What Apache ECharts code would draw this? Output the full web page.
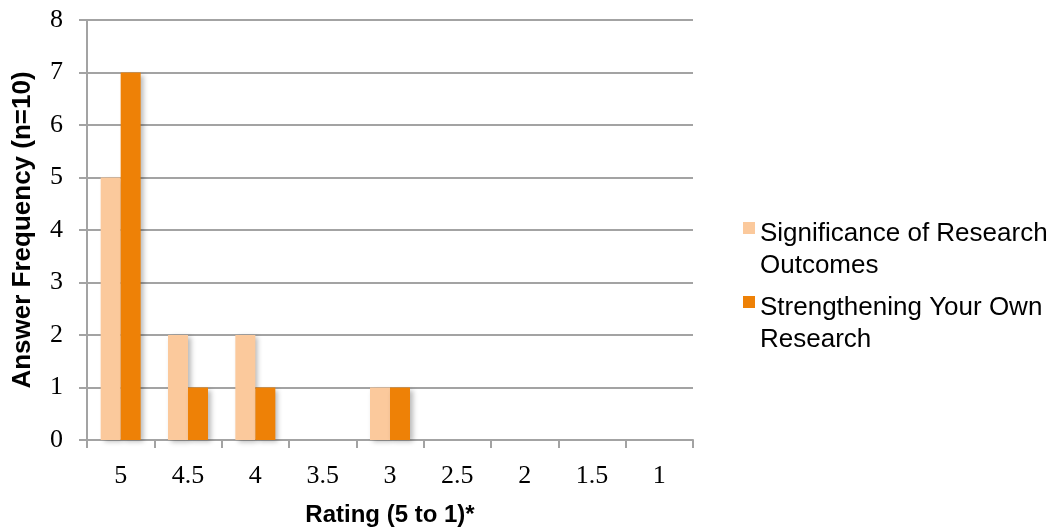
<!DOCTYPE html>
<html>
<head>
<meta charset="utf-8">
<script src="https://cdn.jsdelivr.net/npm/echarts@6/dist/echarts.min.js"></script>
<style>
  html, body { margin: 0; padding: 0; background: #fff; }
  #chart { width: 1055px; height: 529px; }
</style>
</head>
<body>
<div id="chart"></div>
<script>
// Rating categories, from highest to lowest
const ratings = ['5', '4.5', '4', '3.5', '3', '2.5', '2', '1.5', '1'];
// Answer counts per rating
const significance = [5, 2, 2, 0, 1, 0, 0, 0, 0];
const strengthening = [7, 1, 1, 0, 1, 0, 0, 0, 0];

const seriesNames = ['Significance of Research Outcomes', 'Strengthening Your Own Research'];
// Legend labels wrapped onto two lines; the spacer line on top keeps the
// swatch level with the first line of text
const legendLines = {
  'Significance of Research Outcomes': ['Significance of Research', 'Outcomes'],
  'Strengthening Your Own Research': ['Strengthening Your Own', 'Research']
};

const LIGHT = '#FBC99C';
const DARK = '#EE8106';
const GRID = '#A3A3A3';

const chart = echarts.init(document.getElementById('chart'), null, { renderer: 'canvas' });

const legendBase = {
  orient: 'vertical',
  left: 743,
  padding: 0,
  itemWidth: 12,
  itemHeight: 12,
  icon: 'rect',
  itemStyle: { shadowBlur: 0, shadowColor: 'rgba(0,0,0,0)' },
  textStyle: {
    fontFamily: 'Liberation Sans',
    fontSize: 26,
    color: '#000',
    rich: {
      e: { lineHeight: 44, fontSize: 26, fontFamily: 'Liberation Sans' },
      t: { lineHeight: 32, fontSize: 26, fontFamily: 'Liberation Sans', color: '#000' }
    }
  },
  formatter: name => '{e| }\n{t|' + legendLines[name][0] + '}\n{t|' + legendLines[name][1] + '}'
};

const barShadow = {
  shadowBlur: 5,
  shadowOffsetX: 3,
  shadowOffsetY: 2,
  shadowColor: 'rgba(0,0,0,0.28)'
};

chart.setOption({
  animation: false,
  grid: { left: 87, right: 362, top: 20, bottom: 89, outerBoundsMode: 'none' },
  legend: [
    Object.assign({}, legendBase, { top: 183, data: [seriesNames[0]] }),
    Object.assign({}, legendBase, { top: 257, data: [seriesNames[1]] })
  ],
  xAxis: {
    type: 'category',
    data: ratings,
    name: 'Rating (5 to 1)*',
    nameLocation: 'middle',
    nameGap: 63,
    nameTextStyle: { fontFamily: 'Liberation Sans', fontWeight: 'bold', fontSize: 24, color: '#000' },
    axisLine: { lineStyle: { color: GRID, width: 2 } },
    axisTick: { show: true, length: 8, lineStyle: { color: GRID, width: 2 } },
    axisLabel: { fontFamily: 'Liberation Serif', fontSize: 26, color: '#000', margin: 23 },
    splitLine: { show: false }
  },
  yAxis: {
    type: 'value',
    min: 0,
    max: 8,
    interval: 1,
    name: 'Answer Frequency (n=10)',
    nameLocation: 'middle',
    nameGap: 51,
    nameRotate: 90,
    nameTextStyle: { fontFamily: 'Liberation Sans', fontWeight: 'bold', fontSize: 26, color: '#000' },
    axisLine: { show: true, lineStyle: { color: GRID, width: 2 } },
    axisTick: { show: true, length: 8, lineStyle: { color: GRID, width: 2 } },
    axisLabel: { fontFamily: 'Liberation Serif', fontSize: 26, color: '#000', margin: 24 },
    splitLine: { show: true, lineStyle: { color: GRID, width: 2 } }
  },
  series: [
    {
      name: seriesNames[0],
      type: 'bar',
      data: significance,
      barWidth: 20,
      barGap: '0%',
      itemStyle: Object.assign({ color: LIGHT }, barShadow)
    },
    {
      name: seriesNames[1],
      type: 'bar',
      data: strengthening,
      barWidth: 20,
      barGap: '0%',
      itemStyle: Object.assign({ color: DARK }, barShadow)
    }
  ]
});
</script>
</body>
</html>
